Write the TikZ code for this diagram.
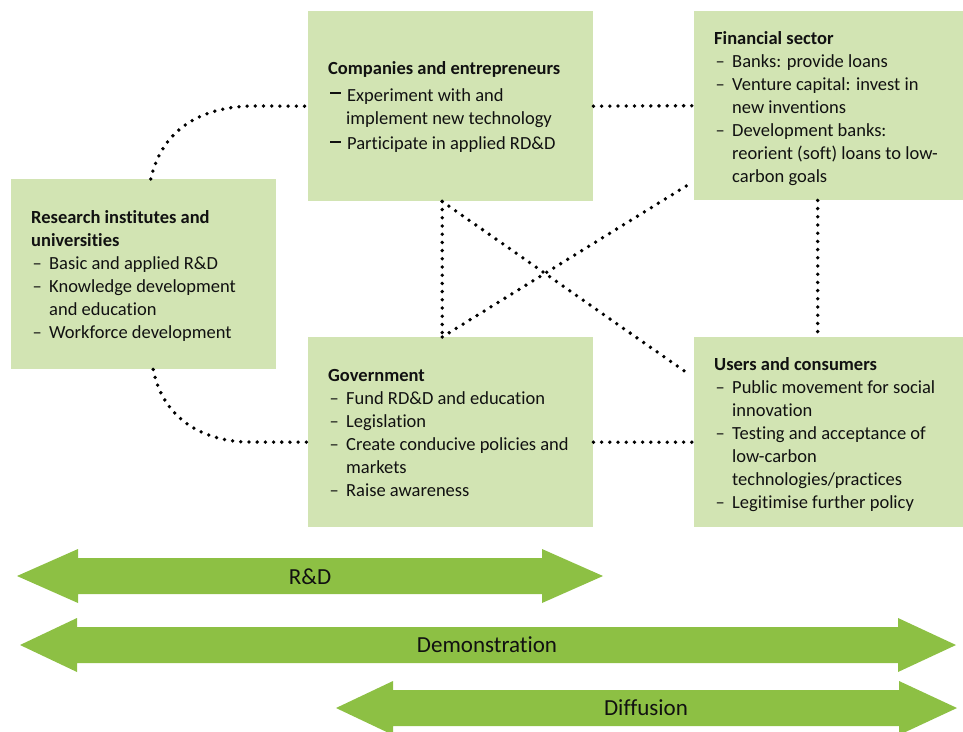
\documentclass[tikz,border=0pt]{standalone}
\usepackage{fontspec}
\setmainfont{Carlito}[Ligatures=NoCommon]
\definecolor{boxgreen}{HTML}{D2E4B3}
\definecolor{arrowgreen}{HTML}{8DC044}
\definecolor{txtcol}{HTML}{111111}
\newcommand{\bl}{\makebox[18pt][l]{\hspace{1.5pt}–}}
\newcommand{\bm}{\makebox[19pt][l]{\hspace{2pt}\rule[7pt]{11pt}{2pt}}}
\newcommand{\ind}{\hspace*{18pt}}
\newcommand{\dblarr}[5]{\fill[arrowgreen] (#1,#5) -- (#2,#5-27) -- (#2,#5-18) -- (#3,#5-18) -- (#3,#5-27) -- (#4,#5) -- (#3,#5+27) -- (#3,#5+18) -- (#2,#5+18) -- (#2,#5+27) -- cycle;}
\begin{document}
\begin{tikzpicture}[x=1pt,y=-1pt,
  box/.style={rectangle, fill=boxgreen, inner sep=0pt, anchor=north west},
  txt/.style={inner sep=0pt, anchor=north west, align=left, text=txtcol,
    font={\fontsize{18.5}{23}\selectfont}},
  lbl/.style={inner sep=0pt, text=txtcol, font={\fontsize{23}{26}\selectfont}},
  dotline/.style={line width=3.8pt, line cap=round, dash pattern=on 0pt off 8.2pt}]
\useasboundingbox (0,0) rectangle (963,731);
\clip (0,0) rectangle (963,731);
% boxes
\node[box, minimum width=265pt, minimum height=190pt] (res) at (11,179) {};
\node[box, minimum width=285pt, minimum height=190pt] (comp) at (308,11) {};
\node[box, minimum width=269pt, minimum height=189pt] (fin) at (694,11) {};
\node[box, minimum width=285pt, minimum height=190pt] (gov) at (308,337) {};
\node[box, minimum width=269pt, minimum height=190pt] (users) at (694,337) {};
% texts
\node[txt] (rest) at (31,207) {\strut\textbf{Research institutes and}\\\textbf{universities}\\\bl Basic and applied R\&D\\\bl Knowledge development\\\ind and education\\\bl Workforce development};
\node[txt] (compt) at (328,58) {\strut\textbf{Companies and entrepreneurs}\\[4pt]\bm Experiment with and\\\ind implement new technology\\[2.5pt]\bm Participate in applied RD\&D};
\node[txt] (fint) at (714,28) {\strut\textbf{Financial sector}\\\bl Banks: provide loans\\\bl Venture capital: invest in\\\ind new inventions\\\bl Development banks:\\\ind reorient (soft) loans to low-\\\ind carbon goals};
\node[txt] (govt) at (328,365) {\strut\textbf{Government}\\\bl Fund RD\&D and education\\\bl Legislation\\\bl Create conducive policies and\\\ind markets\\\bl Raise awareness};
\node[txt] (userst) at (714,354) {\strut\textbf{Users and consumers}\\\bl Public movement for social\\\ind innovation\\\bl Testing and acceptance of\\\ind low-carbon\\\ind technologies/practices\\\bl Legitimise further policy};
% connectors
\draw[dotline] ([xshift=7pt]res.north) .. controls (162,130) and (200,106) .. (255,106) -- (comp.west);
\draw[dotline] ([xshift=9.5pt]res.south) .. controls (163,420) and (205,442) .. (250,442) -- ([yshift=-10pt]gov.west);
\draw[dotline] (comp.east) -- (fin.west);
\draw[dotline] ([yshift=-10pt]gov.east) -- ([yshift=-10pt]users.west);
\draw[dotline] ([xshift=-11pt]fin.south) -- ([xshift=-11pt]users.north);
\draw[dotline] ([xshift=-8.5pt]comp.south) -- ([xshift=-8.5pt]gov.north);
\draw[dotline] ([xshift=-8.5pt]comp.south) -- ([xshift=-8pt,yshift=60pt]users.west);
\draw[dotline] ([xshift=-8.5pt]gov.north) -- ([xshift=-2pt,yshift=18pt]fin.south west);
% phase arrows
\dblarr{17}{78}{542}{603}{576}
\dblarr{20}{77}{898}{956}{645}
\dblarr{336}{393}{899}{957}{708}
\node[lbl] (rdl) at (310,577) {R\&D};
\node[lbl] (deml) at (487,645) {Demonstration};
\node[lbl] (difl) at (646,708) {Diffusion};
\end{tikzpicture}
\end{document}
